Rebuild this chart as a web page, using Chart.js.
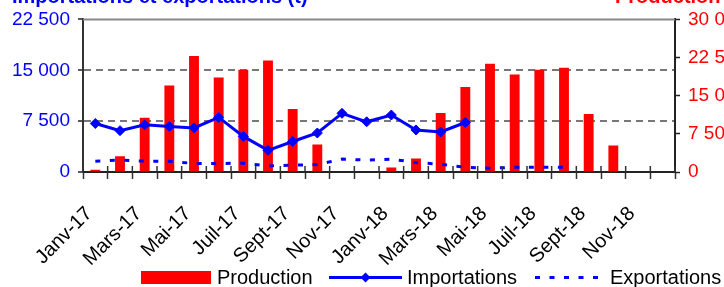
<!DOCTYPE html>
<html>
<head>
<meta charset="utf-8">
<script src="https://cdn.jsdelivr.net/npm/chart.js@4.4.1/dist/chart.umd.min.js"></script>
<style>
  html, body { margin: 0; padding: 0; background: #fff; }
  #wrap { width: 724px; height: 287px; }
</style>
</head>
<body>
<div id="wrap"><canvas id="c" width="724" height="287"></canvas></div>
<script>
// monthly series, Jan 2017 -> Dec 2018 (tonnes)
const MONTHS = [
  'Janv-17', 'Févr-17', 'Mars-17', 'Avr-17', 'Mai-17', 'Juin-17',
  'Juil-17', 'Août-17', 'Sept-17', 'Oct-17', 'Nov-17', 'Déc-17',
  'Janv-18', 'Févr-18', 'Mars-18', 'Avr-18', 'Mai-18', 'Juin-18',
  'Juil-18', 'Août-18', 'Sept-18', 'Oct-18', 'Nov-18', 'Déc-18'
];
const PRODUCTION = [
  450, 3100, 10650, 17000, 22800, 18600, 20100, 21900, 12400, 5400, 0, 0,
  900, 2650, 11600, 16700, 21300, 19150, 20100, 20500, 11400, 5200, 0, 0
];
const IMPORTATIONS = [
  7150, 6100, 6950, 6700, 6500, 8050, 5250, 3200, 4500, 5750, 8650, 7400,
  8400, 6200, 5900, 7300, null, null, null, null, null, null, null, null
];
const EXPORTATIONS = [
  1600, 1750, 1600, 1600, 1250, 1250, 1300, 900, 1000, 1100, 1900, 1750,
  1900, 1400, 1150, 700, 550, 700, 700, 700, null, null, null, null
];
const LEFT_TICKS = [0, 7500, 15000, 22500];
const RIGHT_TICKS = [0, 7500, 15000, 22500, 30000];
const LEFT_GRID = [7500, 15000];

const FONT = "'Liberation Sans', Arial, sans-serif";
const BLUE = '#0000FF';
const RED = '#FF0000';

const fmt = (v) => String(v).replace(/\B(?=(\d{3})+(?!\d))/g, ' ');

// titles above the plot, legend along the bottom, frame + inner x ticks
const decor = {
  id: 'decor',
  afterDraw(chart) {
    const { ctx, chartArea: a } = chart;
    ctx.save();
    ctx.strokeStyle = '#888';
    ctx.lineWidth = 2;
    ctx.beginPath();
    ctx.moveTo(a.left, a.top);
    ctx.lineTo(a.right, a.top);
    ctx.stroke();

    // x ticks cross the axis: add the part inside the plot
    const xs = chart.scales.x;
    const half = (xs.getPixelForValue(1) - xs.getPixelForValue(0)) / 2;
    ctx.strokeStyle = '#333';
    ctx.lineWidth = 1.5;
    ctx.beginPath();
    for (let i = 0; i <= MONTHS.length; i++) {
      const x = xs.getPixelForValue(i) - half;
      ctx.moveTo(x, a.bottom - 6);
      ctx.lineTo(x, a.bottom);
    }
    ctx.stroke();

    ctx.font = `bold 20px ${FONT}`;
    ctx.textBaseline = 'alphabetic';
    ctx.fillStyle = BLUE;
    ctx.fillText('Importations et exportations (t)', 12, 3);
    ctx.fillStyle = RED;
    ctx.fillText('Production', 615, 3);

    // legend
    const ds = chart.data.datasets;
    const y = 277.5;
    ctx.fillStyle = ds[0].backgroundColor;
    ctx.fillRect(141, 271, 70, 13);

    ctx.strokeStyle = ds[1].borderColor;
    ctx.lineWidth = ds[1].borderWidth;
    ctx.beginPath();
    ctx.moveTo(329, y);
    ctx.lineTo(402, y);
    ctx.stroke();
    ctx.fillStyle = ds[1].borderColor;
    ctx.beginPath();
    ctx.moveTo(365.5 - 5, y);
    ctx.lineTo(365.5, y - 5);
    ctx.lineTo(365.5 + 5, y);
    ctx.lineTo(365.5, y + 5);
    ctx.closePath();
    ctx.fill();

    ctx.strokeStyle = ds[2].borderColor;
    ctx.lineWidth = ds[2].borderWidth;
    ctx.setLineDash(ds[2].borderDash);
    ctx.beginPath();
    ctx.moveTo(535, y);
    ctx.lineTo(600, y);
    ctx.stroke();
    ctx.setLineDash([]);

    ctx.font = `20px ${FONT}`;
    ctx.fillStyle = '#000';
    ctx.fillText(ds[0].label, 217, 284);
    ctx.fillText(ds[1].label, 407, 284);
    ctx.fillText(ds[2].label, 610, 284);
    ctx.restore();
  }
};

Chart.defaults.font.family = FONT;

new Chart(document.getElementById('c'), {
  type: 'bar',
  data: {
    labels: MONTHS,
    datasets: [
      {
        type: 'bar',
        label: 'Production',
        data: PRODUCTION,
        yAxisID: 'y2',
        backgroundColor: RED,
        categoryPercentage: 1,
        barPercentage: 0.4,
        order: 3
      },
      {
        type: 'line',
        label: 'Importations',
        data: IMPORTATIONS,
        yAxisID: 'y',
        borderColor: BLUE,
        backgroundColor: BLUE,
        borderWidth: 3,
        pointStyle: 'rectRot',
        pointRadius: 5,
        pointBorderWidth: 1,
        tension: 0,
        order: 1
      },
      {
        type: 'line',
        label: 'Exportations',
        data: EXPORTATIONS,
        yAxisID: 'y',
        borderColor: BLUE,
        backgroundColor: BLUE,
        borderWidth: 3,
        borderDash: [5, 9.5],
        pointRadius: 0,
        tension: 0,
        order: 2
      }
    ]
  },
  options: {
    responsive: false,
    animation: false,
    devicePixelRatio: 1,
    layout: { padding: { top: 17, left: 0, right: 0, bottom: 0 } },
    plugins: {
      legend: { display: false },
      title: { display: false },
      tooltip: { enabled: false }
    },
    scales: {
      x: {
        offset: true,
        afterFit: (s) => { s.height = 115; },
        grid: {
          display: true, offset: true, drawOnChartArea: false,
          drawTicks: true, tickLength: 7, tickColor: '#333', tickWidth: 1.5
        },
        border: { display: true, color: '#222', width: 2 },
        ticks: {
          autoSkip: false, minRotation: 45, maxRotation: 45, padding: 23,
          labelOffset: -6,
          color: '#000', font: { size: 20 },
          callback: (v, i) => (i % 2 === 0 ? MONTHS[i] : '')
        }
      },
      y: {
        position: 'left',
        min: 0, max: 22500,
        afterFit: (s) => { s.width = 83; },
        afterBuildTicks: (s) => { s.ticks = LEFT_TICKS.map((v) => ({ value: v })); },
        grid: {
          color: (c) => (c.tick && LEFT_GRID.includes(c.tick.value) ? '#777' : 'rgba(0,0,0,0)'),
          lineWidth: 2, tickLength: 5, tickColor: '#222', tickWidth: 1.5
        },
        border: { display: true, color: '#333', width: 2, dash: [7, 5] },
        ticks: { color: BLUE, padding: 8, font: { size: 19 }, callback: (v) => fmt(v) }
      },
      y2: {
        position: 'right',
        min: 0, max: 30000,
        afterFit: (s) => { s.width = 49; },
        afterBuildTicks: (s) => { s.ticks = RIGHT_TICKS.map((v) => ({ value: v })); },
        grid: {
          drawOnChartArea: false, tickLength: 5, tickColor: '#222', tickWidth: 1.5
        },
        border: { display: true, color: '#222', width: 2 },
        ticks: { color: RED, padding: 8, font: { size: 19 }, callback: (v) => fmt(v) }
      }
    }
  },
  plugins: [decor]
});
</script>
</body>
</html>
